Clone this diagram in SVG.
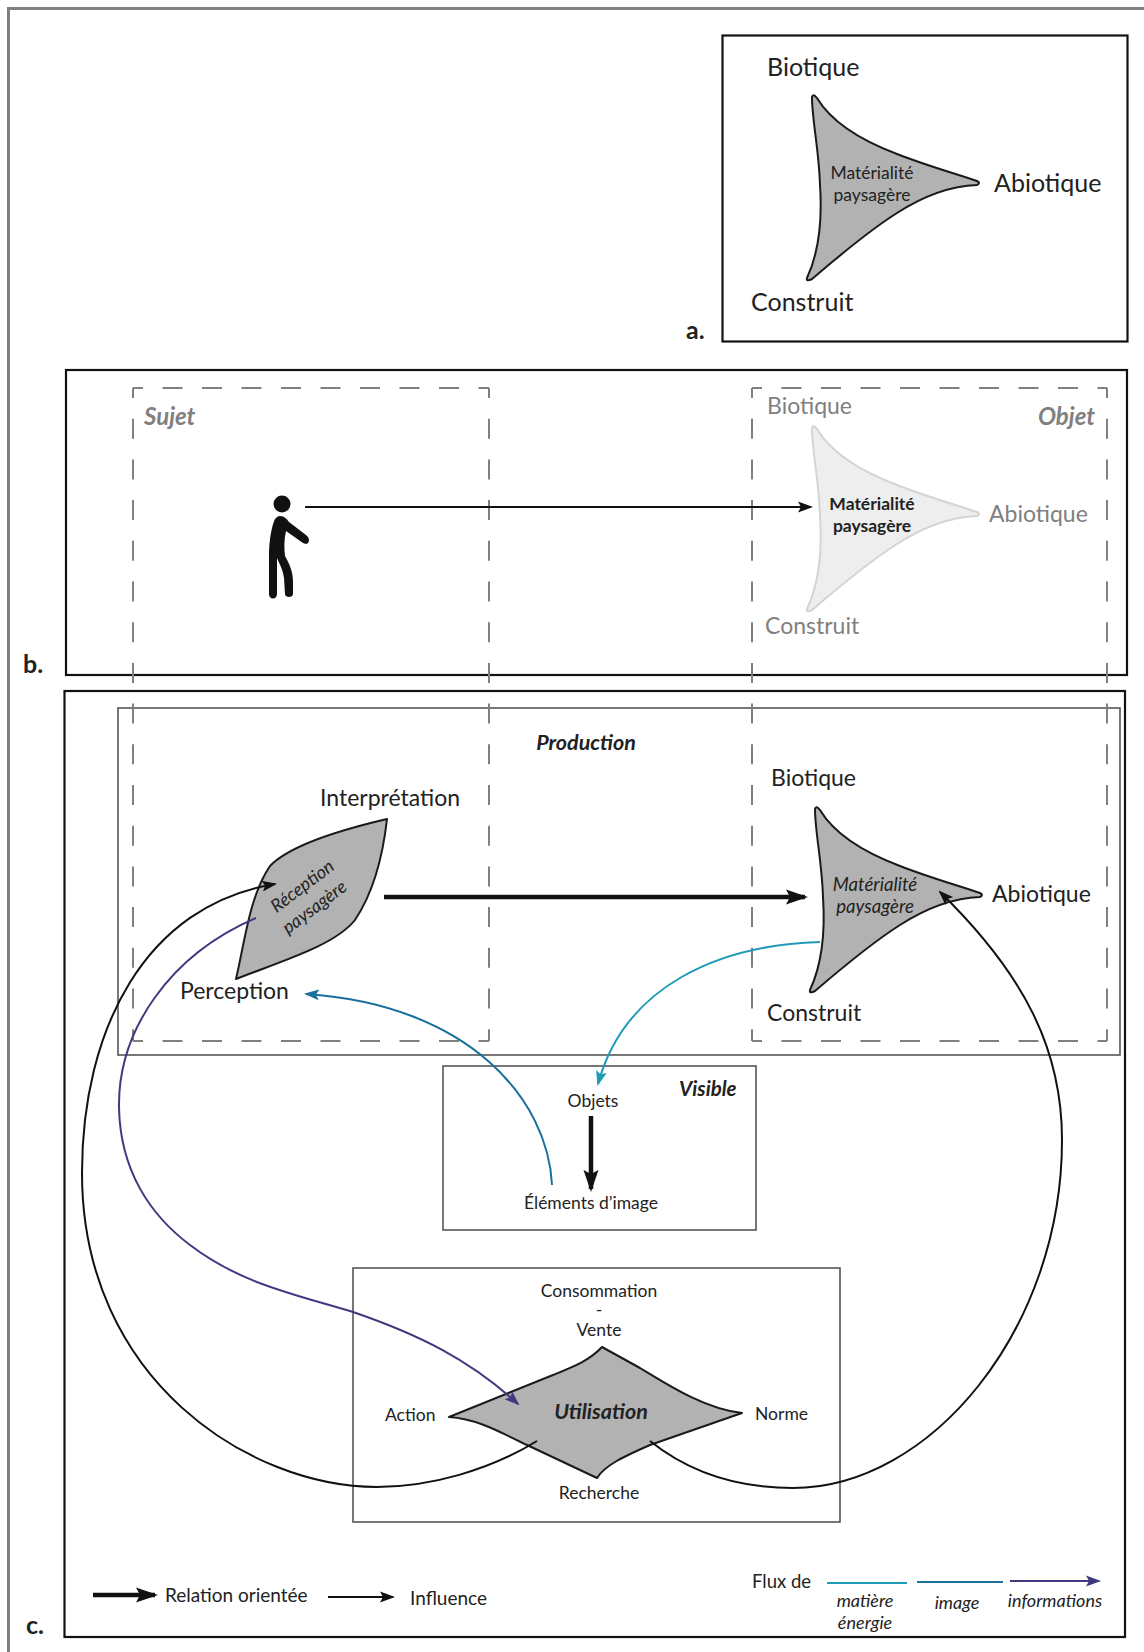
<svg xmlns="http://www.w3.org/2000/svg" xmlns:xlink="http://www.w3.org/1999/xlink" width="1144" height="1652" viewBox="0 0 1144 1652">
<style>
text{font-family:Lato,"Liberation Sans",sans-serif;fill:#222}
.big{font-size:25px}.mid{font-size:23px}.sm{font-size:17.5px}.lg{font-size:19px}.xs{font-size:18px}
.ib{font-size:21.5px}.zone{font-size:24px}
.c{text-anchor:middle}.gr{fill:#808080}.it{font-style:italic}.bd{font-weight:700}
.pan{fill:none;stroke:#111;stroke-width:2.2}
.sub{fill:none;stroke:#555;stroke-width:1.6}
.dh{fill:none;stroke:#808080;stroke-width:2;stroke-dasharray:20 19.5;stroke-dashoffset:10}
.dv{fill:none;stroke:#808080;stroke-width:2;stroke-dasharray:20 20.7;stroke-dashoffset:10}
.shape{fill:#b2b2b2;stroke:#1a1a1a;stroke-width:2;stroke-linejoin:round}
.pale{fill:#eeeeee;stroke:#d4d4d4;stroke-width:2;stroke-linejoin:round}
.thin{fill:none;stroke:#111;stroke-width:2}
.thick{fill:none;stroke:#111;stroke-width:4.5}
.teal{fill:none;stroke:#1f9bb8;stroke-width:2}
.blue{fill:none;stroke:#1a6f9c;stroke-width:2}
.purple{fill:none;stroke:#3f3a80;stroke-width:2}
</style>
<defs>
<path id="tri" d="M812,97 Q813,93 817,98 C832,123 860,140 897,154 C925,165 950,172 977,181 Q981,183 977,185 C950,186 925,195 897,213 C870,230 840,255 812,279 Q806,282 807,278 C820,250 822,215 820,185 C819,150 812,120 812,97 Z"/>
<marker id="mThin" markerUnits="userSpaceOnUse" viewBox="0 0 15 12" refX="13" refY="6" markerWidth="15" markerHeight="12" orient="auto"><path d="M0,0.5 L15,6 L0,11.5 L3,6 Z" fill="#111"/></marker>
<marker id="mThick" markerUnits="userSpaceOnUse" viewBox="0 0 22 16" refX="19" refY="8" markerWidth="22" markerHeight="16" orient="auto"><path d="M0,0.5 L22,8 L0,15.5 L4,8 Z" fill="#111"/></marker>
<marker id="mTeal" markerUnits="userSpaceOnUse" viewBox="0 0 15 12" refX="13" refY="6" markerWidth="15" markerHeight="12" orient="auto"><path d="M0,0.5 L15,6 L0,11.5 L3,6 Z" fill="#1f9bb8"/></marker>
<marker id="mBlue" markerUnits="userSpaceOnUse" viewBox="0 0 15 12" refX="13" refY="6" markerWidth="15" markerHeight="12" orient="auto"><path d="M0,0.5 L15,6 L0,11.5 L3,6 Z" fill="#1a6f9c"/></marker>
<marker id="mPurple" markerUnits="userSpaceOnUse" viewBox="0 0 15 12" refX="13" refY="6" markerWidth="15" markerHeight="12" orient="auto"><path d="M0,0.5 L15,6 L0,11.5 L3,6 Z" fill="#3f3a80"/></marker>
</defs>
<rect width="1144" height="1652" fill="#fff"/>
<path d="M8.5,1652 V8.5 H1144" fill="none" stroke="#808080" stroke-width="3"/>

<g id="panels">
<rect class="pan" x="722.5" y="35.5" width="405" height="306"/>
<rect class="pan" x="66" y="370" width="1061" height="305"/>
<rect class="pan" x="64.5" y="691" width="1060.5" height="946"/>
<rect class="sub" x="118" y="708" width="1002" height="347"/>
</g>

<g id="zone-sujet">
<path class="dh" d="M133,388 H489"/><path class="dh" d="M133,1041 H489"/>
<path class="dv" d="M133,388 V1041"/><path class="dv" d="M489,388 V1041"/>
<text class="zone gr it bd" x="144" y="425">Sujet</text>
</g>
<g id="zone-objet">
<path class="dh" d="M752,388 H1107"/><path class="dh" d="M752,1041 H1107"/>
<path class="dv" d="M752,388 V1041"/><path class="dv" d="M1107,388 V1041"/>
<text class="zone gr it bd" x="1095" y="425" text-anchor="end">Objet</text>
</g>

<g id="node-a">
<use xlink:href="#tri" href="#tri" class="shape"/>
<text class="big" x="767" y="76">Biotique</text>
<text class="big" x="994" y="192">Abiotique</text>
<text class="big" x="751" y="311">Construit</text>
<text class="sm c" x="872" y="179">Matérialité</text>
<text class="sm c" x="872" y="201">paysagère</text>
<text class="big bd" x="686" y="339">a.</text>
</g>

<g id="node-sujet-figure">
<circle cx="282" cy="504" r="8.5" fill="#111"/>
<path fill="#111" d="M280,516 C284,516 287,519 289,522 L306,535 C310,538 310,543 306,544 L303,543 L286,531 C284,540 284,548 285,556 C290,565 293,572 293,582 L293,594 C293,598 285,598 285,594 L284,578 C283,570 280,565 277,558 L277,594 C277,600 269,600 269,594 L269,555 C269,540 272,525 275,519 C277,517 278,516 280,516 Z"/>
</g>

<g id="node-b">
<use xlink:href="#tri" href="#tri" class="pale" y="331"/>
<text class="mid gr" x="767" y="414">Biotique</text>
<text class="mid gr" x="989" y="522">Abiotique</text>
<text class="mid gr" x="765" y="634">Construit</text>
<text class="sm c bd" x="872" y="510">Matérialité</text>
<text class="sm c bd" x="872" y="532">paysagère</text>
<text class="big bd" x="23" y="673">b.</text>
</g>

<g id="node-production">
<text class="ib it bd c" x="586" y="750">Production</text>
</g>

<g id="node-reception">
<path class="shape" d="M236,979 C245,940 250,895 270,866 C290,845 340,830 387,819 C383,855 375,890 355,920 C335,945 285,960 236,979 Z"/>
<text class="mid" x="320" y="806">Interprétation</text>
<text class="mid" x="180" y="999">Perception</text>
<text class="xs it c" transform="translate(306,891) rotate(-37)">Réception</text>
<text class="xs it c" transform="translate(318,912) rotate(-37)">paysagère</text>
</g>

<g id="node-materialite">
<use xlink:href="#tri" href="#tri" class="shape" x="3" y="712"/>
<text class="mid" x="771" y="786">Biotique</text>
<text class="mid" x="992" y="902">Abiotique</text>
<text class="mid" x="767" y="1021">Construit</text>
<text class="it c" x="875" y="891" style="font-size:18.6px">Matérialité</text>
<text class="it c" x="875" y="913" style="font-size:18.6px">paysagère</text>
</g>

<g id="node-visible">
<rect class="sub" x="443" y="1066" width="313" height="164"/>
<text class="it bd" x="679" y="1096" style="font-size:20.5px">Visible</text>
<text class="sm c" x="593" y="1107">Objets</text>
<text class="sm c" x="591" y="1209">Éléments d’image</text>
</g>

<g id="node-utilisation">
<rect class="sub" x="353" y="1268" width="487" height="254"/>
<path class="shape" d="M449,1417 L553,1375 C575,1366 590,1360 602,1347 L640,1368 C668,1385 705,1409 742,1413 L650,1445 C625,1456 605,1465 597,1478 L527,1445 C505,1435 480,1419 449,1417 Z"/>
<text class="sm c" x="599" y="1297">Consommation</text>
<text class="sm c" x="599" y="1316">-</text>
<text class="sm c" x="599" y="1336">Vente</text>
<text class="sm" x="385" y="1421">Action</text>
<text class="sm" x="755" y="1420">Norme</text>
<text class="sm c" x="599" y="1499">Recherche</text>
<text class="ib it bd c" x="601" y="1419">Utilisation</text>
</g>

<g id="legend">
<text class="lg" x="165" y="1602">Relation orientée</text>
<text class="lg" x="410" y="1605">Influence</text>
<text class="lg" x="752" y="1588" style="font-size:18.5px">Flux de</text>
<text class="xs it c" x="865" y="1607">matière</text>
<text class="xs it c" x="865" y="1629">énergie</text>
<text class="xs it c" x="957" y="1609">image</text>
<text class="xs it c" x="1055" y="1607">informations</text>
</g>

<g id="connectors">
<path class="thin" d="M305,507 H811" marker-end="url(#mThin)"/>
<path class="thick" d="M384,897 H805" marker-end="url(#mThick)"/>
<path class="thick" d="M591,1116 V1189" marker-end="url(#mThick)"/>
<path class="teal" d="M820,942 C720,945 625,985 598,1084" marker-end="url(#mTeal)"/>
<path class="blue" d="M552,1185 C548,1100 470,1005 306,994" marker-end="url(#mBlue)"/>
<path class="purple" d="M256,918 C170,955 118,1030 119,1107 C120,1170 150,1215 190,1245 C240,1283 290,1293 353,1312 C420,1335 470,1360 518,1404" marker-end="url(#mPurple)"/>
<path class="thin" d="M537,1441 C490,1470 430,1487 377,1487 C250,1487 82,1380 82,1173 C82,1030 145,905 275,884" marker-end="url(#mThin)"/>
<path class="thin" d="M650,1441 C690,1473 740,1488 793,1488 C930,1488 1062,1330 1062,1140 C1062,1050 1025,975 940,892" marker-end="url(#mThin)"/>
<path class="thick" d="M93,1595 H155" marker-end="url(#mThick)"/>
<path class="thin" d="M328,1597 H393" marker-end="url(#mThin)"/>
<path class="teal" d="M827,1583 H907"/>
<path class="blue" d="M917,1582 H1003"/>
<path class="purple" d="M1010,1581 H1099" marker-end="url(#mPurple)"/>
</g>

<text class="big bd" x="26" y="1634">c.</text>
</svg>
